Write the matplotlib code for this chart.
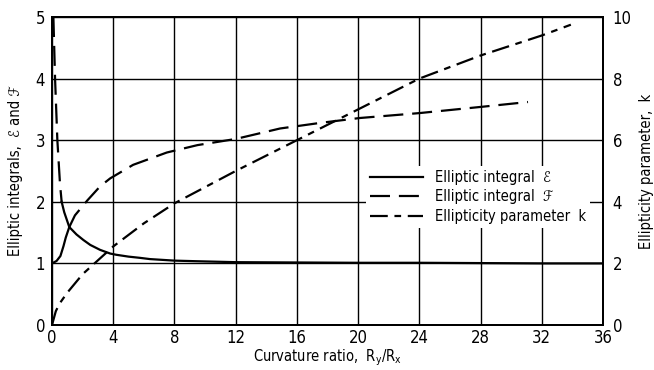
import matplotlib.pyplot as plt
from matplotlib.lines import Line2D

plt.rcParams['font.family'] = ['DejaVu Sans']
plt.rcParams['font.stretch'] = 'condensed'

# Elliptic integral E (solid) - lower branch for ratio < 1, main branch after
e_low_x = [0.0, 0.3, 0.55, 0.75, 0.9, 1.13]
e_low_y = [1.0, 1.04, 1.12, 1.28, 1.42, 1.59]
e_x = [0.63, 0.8, 1.13, 1.6, 2.05, 2.5, 3.14, 3.8, 4.2, 5.0, 5.75, 6.4, 8.0, 9.5, 12, 16, 20, 24, 28, 32, 36]
e_y = [2.0, 1.83, 1.59, 1.47, 1.38, 1.30, 1.22, 1.16, 1.14, 1.11, 1.09, 1.07, 1.045, 1.035, 1.02, 1.015, 1.01, 1.01, 1.005, 1.0, 1.0]

# Elliptic integral F (dashed) - steep branch for ratio < 1, main branch after
f_low_x = [0.09, 0.2, 0.35, 0.52, 0.63]
f_low_y = [5.0, 4.0, 3.0, 2.3, 2.0]
f_x = [1.13, 1.5, 2.3, 3.14, 3.8, 5.3, 7.5, 9.5, 12.0, 14.9, 17.5, 20.1, 24.0, 28.0, 31.1]
f_y = [1.59, 1.78, 2.02, 2.25, 2.38, 2.60, 2.80, 2.92, 3.02, 3.19, 3.28, 3.36, 3.44, 3.54, 3.62]

# Ellipticity parameter k (dash-dot, right axis)
k_x = [0.0, 0.25, 0.5, 1.0, 2.0, 3.0, 4.0, 6.0, 8.0, 12.0, 16.0, 20.0, 24.0, 28.0, 32.0, 33.9]
k_y = [0.0, 0.45, 0.7, 1.05, 1.65, 2.1, 2.55, 3.3, 3.95, 5.0, 6.0, 7.0, 8.0, 8.75, 9.4, 9.75]

x_ticks = [0, 4, 8, 12, 16, 20, 24, 28, 32, 36]
left_ticks = [0, 1, 2, 3, 4, 5]
right_ticks = [0, 2, 4, 6, 8, 10]

fig = plt.figure(figsize=(6.54, 3.70), dpi=100)
ax = fig.add_axes([52 / 654, 45 / 370, 551 / 654, 308 / 370])
ax2 = ax.twinx()

lw = 1.6
ax.plot(e_low_x, e_low_y, color='black', lw=lw)
ax.plot(e_x, e_y, color='black', lw=lw)
ax.plot(f_low_x, f_low_y, color='black', lw=lw, dashes=(9, 4))
ax.plot(f_x, f_y, color='black', lw=lw, dashes=(9, 4))
ax2.plot(k_x, k_y, color='black', lw=lw, dashes=(8, 3, 3, 3))

ax.set_xlim(0, 36)
ax.set_ylim(0, 5)
ax2.set_ylim(0, 10)
ax.set_xticks(x_ticks)
ax.set_yticks(left_ticks)
ax2.set_yticks(right_ticks)
ax.grid(True, color='black', lw=1.0)
ax.tick_params(axis='y', length=0, labelsize=12, pad=5)
ax.tick_params(axis='x', length=0, labelsize=12, pad=3)
ax2.tick_params(length=0, labelsize=12, pad=7)
for a in (ax, ax2):
    for s in a.spines.values():
        s.set_linewidth(1.4)

ax.set_xlabel(r'Curvature ratio,  $\mathrm{R_y/R_x}$', fontsize=10.5, labelpad=0)
ax.set_ylabel('Elliptic integrals,  ℰ and ℱ', fontsize=10.5, labelpad=9)
ax2.set_ylabel('Ellipticity parameter,  k', fontsize=10.5, labelpad=5)

handles = [
    Line2D([], [], color='black', lw=lw),
    Line2D([], [], color='black', lw=lw, dashes=(9, 4)),
    Line2D([], [], color='black', lw=lw, dashes=(8, 3, 3, 3)),
]
labels = ['Elliptic integral  ℰ', 'Elliptic integral  ℱ', 'Ellipticity parameter  k']
leg = ax2.legend(handles, labels, loc='center left', bbox_to_anchor=(0.57, 0.416),
                 frameon=True, fancybox=False, edgecolor='none', facecolor='white',
                 framealpha=1, fontsize=10.5, handlelength=3.6, handletextpad=0.8,
                 labelspacing=0.3, borderpad=0.3, borderaxespad=0)

fig.savefig('out.png', dpi=100)
